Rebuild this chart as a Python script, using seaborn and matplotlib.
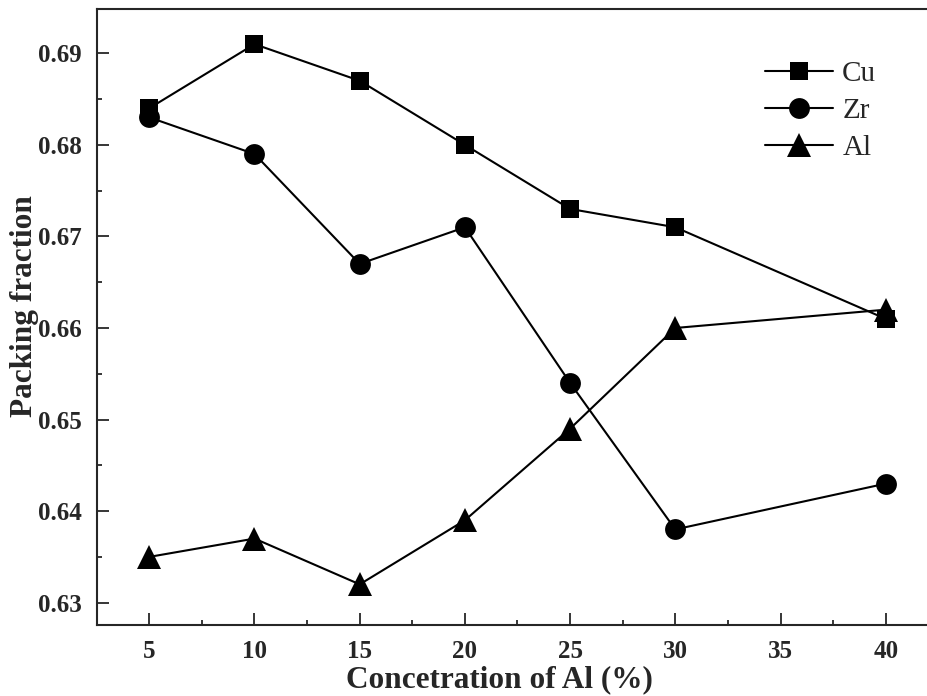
import numpy as np
import pandas as pd
import seaborn as sns
import matplotlib.pyplot as plt
from matplotlib.ticker import MultipleLocator

# Al concentration (%) and packing fraction of each element
al_conc = [5, 10, 15, 20, 25, 30, 40]
cu_pf = [0.684, 0.691, 0.687, 0.680, 0.673, 0.671, 0.661]
zr_pf = [0.683, 0.679, 0.667, 0.671, 0.654, 0.638, 0.643]
al_pf = [0.635, 0.637, 0.632, 0.639, 0.649, 0.660, 0.662]

sns.set_style("ticks")
plt.rcParams['font.family'] = ['Liberation Serif', 'DejaVu Serif']

fig = plt.figure(figsize=(9.28, 6.96), dpi=100)
ax = fig.add_axes([0.1042, 0.1020, 0.9069, 0.8851])

series = [("Cu", cu_pf, "s", 13), ("Zr", zr_pf, "o", 15), ("Al", al_pf, "^", 17)]
for name, vals, mk, ms in series:
    sns.lineplot(x=al_conc, y=vals, ax=ax, color="black", linewidth=1.5,
                 marker=mk, markersize=ms, markeredgewidth=0, label=name)

ax.set_xlim(2.5, 42.5)
ax.set_ylim(0.62756, 0.69484)
ax.xaxis.set_major_locator(MultipleLocator(5))
ax.xaxis.set_minor_locator(MultipleLocator(2.5))
ax.yaxis.set_major_locator(MultipleLocator(0.01))
ax.yaxis.set_minor_locator(MultipleLocator(0.005))
ax.yaxis.set_major_formatter(plt.FormatStrFormatter('%.2f'))

ax.tick_params(which='major', direction='in', length=8.5, width=1.3, labelsize=18, pad=11)
ax.tick_params(which='minor', direction='in', length=3.8, width=1.3)
for lab in ax.get_xticklabels() + ax.get_yticklabels():
    lab.set_fontweight('bold')
for sp in ax.spines.values():
    sp.set_linewidth(1.5)

ax.set_xlabel("Concetration of Al (%)", fontsize=22.5, fontweight='bold')
ax.set_ylabel("Packing fraction", fontsize=22.5, fontweight='bold')
# labels sit centred on the visible part of the plot
ax.xaxis.set_label_coords(0.479, -0.066)
ax.yaxis.set_label_coords(-0.069, 0.518)

ax.legend(loc='upper left', bbox_to_anchor=(0.796, 0.950), bbox_transform=fig.transFigure,
          frameon=False, fontsize=21, handlelength=2.35, labelspacing=0.35,
          handletextpad=0.3)

fig.savefig("out.png", dpi=100)
